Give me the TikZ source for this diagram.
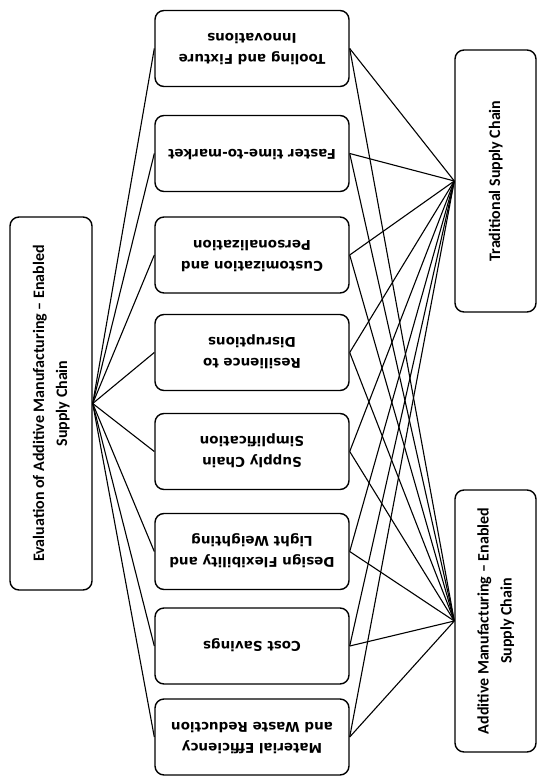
\documentclass[tikz,border=0pt]{standalone}
\usepackage{fontspec}
\setmainfont{Carlito}
\newfontfamily\midfont{DejaVu Sans}
\tikzset{
  box/.style={draw, line width=1.4pt, rounded corners=9pt, inner sep=0pt, fill=white},
  link/.style={line width=1.1pt},
}
\newcommand{\midlbl}[1]{\rotatebox{180}{\midfont\bfseries\fontsize{13.5}{21}\selectfont\begin{tabular}{@{}c@{}}#1\end{tabular}}}
\newcommand{\sidelbl}[1]{\rotatebox{90}{\bfseries\fontsize{16}{23}\selectfont\begin{tabular}{@{}c@{}}#1\end{tabular}}}
\begin{document}
\begin{tikzpicture}[x=1pt,y=-1pt]
\useasboundingbox (0,0) rectangle (537,776);
% left goal box
\node[box, minimum width=82pt, minimum height=373pt] (goal) at (51,403.5)
  {\sidelbl{Evaluation of Additive Manufacturing – Enabled\\Supply Chain}};
% middle criteria
\foreach \n/\y/\t in {
  c1/48.5/{Tooling and Fixture\\Innovations},
  c2/153.5/{Faster time-to-market},
  c3/255/{Customization and\\Personalization},
  c4/352.5/{Resilience to\\Disruptions},
  c5/451.5/{Supply Chain\\Simplification},
  c6/551.5/{Design Flexibility and\\Light Weighting},
  c7/646/{Cost Savings},
  c8/737/{Material Efficiency\\and Waste Reduction}}
  {\node[box, minimum width=194pt, minimum height=76pt] (\n) at (252,\y) {\midlbl{\t}};}
% alternatives
\node[box, minimum width=81pt, minimum height=262pt] (trad) at (495.5,181)
  {\sidelbl{Traditional Supply Chain}};
\node[box, minimum width=81pt, minimum height=262pt] (am) at (495.5,621)
  {\sidelbl{Additive Manufacturing – Enabled\\Supply Chain}};
% connectors
\foreach \n in {c1,c2,c3,c4,c5,c6,c7,c8}{
  \draw[link] (goal.east) -- (\n.west);
  \draw[link] (\n.east) -- (trad.west);
  \draw[link] (\n.east) -- (am.west);
}
\end{tikzpicture}
\end{document}
